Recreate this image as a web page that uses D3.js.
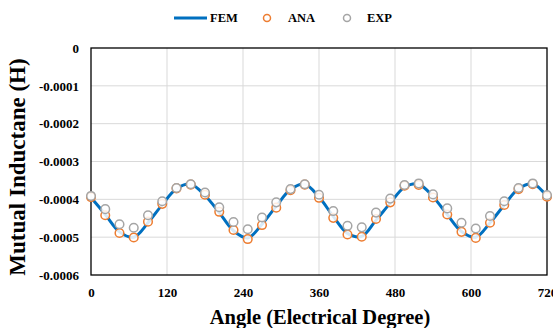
<!DOCTYPE html>
<html><head><meta charset="utf-8">
<script src="https://cdn.jsdelivr.net/npm/d3@7"></script>
<style>
html,body{margin:0;padding:0;background:#fff;}
svg{display:block;}
svg text{font-family:"Liberation Serif","Times New Roman",serif !important;font-weight:bold;fill:#000;}
</style></head><body>
<svg id="chart" width="553" height="328"></svg>
<script>
const angles = [0,22.5,45,67.5,90,112.5,135,157.5,180,202.5,225,247.5,270,292.5,315,337.5,360,382.5,405,427.5,450,472.5,495,517.5,540,562.5,585,607.5,630,652.5,675,697.5,720];
const femValues = [-0.000395,-0.000440,-0.000486,-0.000500,-0.000462,-0.000414,-0.000372,-0.000360,-0.000390,-0.000435,-0.000483,-0.000502,-0.000466,-0.000418,-0.000374,-0.000360,-0.000394,-0.000445,-0.000490,-0.000498,-0.000455,-0.000410,-0.000368,-0.000360,-0.000393,-0.000440,-0.000485,-0.000500,-0.000462,-0.000415,-0.000372,-0.000359,-0.000393];
const anaValues = [-0.000394,-0.000442,-0.000489,-0.000501,-0.000459,-0.000412,-0.000371,-0.000361,-0.000388,-0.000433,-0.000481,-0.000505,-0.000468,-0.000422,-0.000376,-0.000361,-0.000396,-0.000449,-0.000493,-0.000499,-0.000452,-0.000408,-0.000364,-0.000362,-0.000395,-0.000440,-0.000486,-0.000502,-0.000462,-0.000415,-0.000373,-0.000360,-0.000393];
const expValues = [-0.000391,-0.000426,-0.000466,-0.000475,-0.000442,-0.000405,-0.000370,-0.000360,-0.000382,-0.000421,-0.000460,-0.000479,-0.000448,-0.000408,-0.000373,-0.000360,-0.000388,-0.000431,-0.000470,-0.000474,-0.000435,-0.000398,-0.000362,-0.000358,-0.000387,-0.000424,-0.000462,-0.000477,-0.000444,-0.000405,-0.000370,-0.000358,-0.000389];
const xTicks = [0,120,240,360,480,600,720];
const yTicks = [0,-0.0001,-0.0002,-0.0003,-0.0004,-0.0005,-0.0006];
const seriesNames = ["FEM","ANA","EXP"];
const colors = {FEM:"#0070c0", ANA:"#ed7d31", EXP:"#a5a5a5"};

const svg = d3.select("#chart");
const L=91, R=547, T=48, B=275;
const x = d3.scaleLinear().domain([0,720]).range([L,R]);
const y = d3.scaleLinear().domain([-0.0006,0]).range([B,T]);

// gridlines
svg.append("g").selectAll("line").data(xTicks.slice(1,-1)).join("line")
  .attr("x1",d=>x(d)).attr("x2",d=>x(d)).attr("y1",T).attr("y2",B)
  .attr("stroke","#d9d9d9").attr("stroke-width",1);
svg.append("g").selectAll("line").data(yTicks.slice(1,-1)).join("line")
  .attr("y1",d=>y(d)).attr("y2",d=>y(d)).attr("x1",L).attr("x2",R)
  .attr("stroke","#d9d9d9").attr("stroke-width",1);

// axes
const xAxis = svg.append("g").attr("transform",`translate(0,${B})`)
  .call(d3.axisBottom(x).tickValues(xTicks).tickSize(0).tickPadding(13).tickFormat(d3.format("d")));
xAxis.select(".domain").remove();
xAxis.attr("font-family",null).attr("font-size",null);
xAxis.selectAll("text").style("font-size","13px");

const yAxis = svg.append("g").attr("transform",`translate(${L},0)`)
  .call(d3.axisLeft(y).tickValues(yTicks).tickSize(0).tickPadding(12).tickFormat(d=>d===0?"0":d3.format(".4f")(d).replace("−","-")));
yAxis.select(".domain").remove();
yAxis.attr("font-family",null).attr("font-size",null);
yAxis.selectAll("text").style("font-size","13px");

// border
svg.append("rect").attr("x",L).attr("y",T).attr("width",R-L).attr("height",B-T)
  .attr("fill","none").attr("stroke","#000").attr("stroke-width",1.3);

// FEM line
const femData = angles.map((a,i)=>({a, v:femValues[i]}));
svg.append("path").datum(femData)
  .attr("d", d3.line().x(d=>x(d.a)).y(d=>y(d.v)).curve(d3.curveCatmullRom))
  .attr("fill","none").attr("stroke",colors.FEM).attr("stroke-width",3);

function markers(vals, color){
  svg.append("g").selectAll("circle").data(angles.map((a,i)=>({a,v:vals[i]}))).join("circle")
    .attr("cx",d=>x(d.a)).attr("cy",d=>y(d.v)).attr("r",4.3)
    .attr("fill","#fff").attr("fill-opacity",0.85)
    .attr("stroke",color).attr("stroke-width",1.5);
}
markers(anaValues, colors.ANA);
markers(expValues, colors.EXP);

// axis titles
svg.append("text").attr("x",320).attr("y",324).attr("text-anchor","middle")
  .style("font-size","20.5px").text("Angle (Electrical Degree)");
svg.append("text").attr("transform",`translate(25,167) rotate(-90)`).attr("text-anchor","middle")
  .style("font-size","23px").text("Mutual Inductane (H)");

// legend
const lg = svg.append("g");
lg.append("line").attr("x1",174).attr("x2",207).attr("y1",18).attr("y2",18)
  .attr("stroke",colors.FEM).attr("stroke-width",3);
lg.append("text").attr("x",210).attr("y",22).style("font-size","12.5px").text(seriesNames[0]);
lg.append("circle").attr("cx",267).attr("cy",18).attr("r",3.5).attr("fill","#fff").attr("stroke",colors.ANA).attr("stroke-width",1.5);
lg.append("text").attr("x",288).attr("y",22).style("font-size","12.5px").text(seriesNames[1]);
lg.append("circle").attr("cx",347).attr("cy",18).attr("r",3.5).attr("fill","#fff").attr("stroke",colors.EXP).attr("stroke-width",1.5);
lg.append("text").attr("x",367).attr("y",22).style("font-size","12.5px").text(seriesNames[2]);
</script>
</body></html>
